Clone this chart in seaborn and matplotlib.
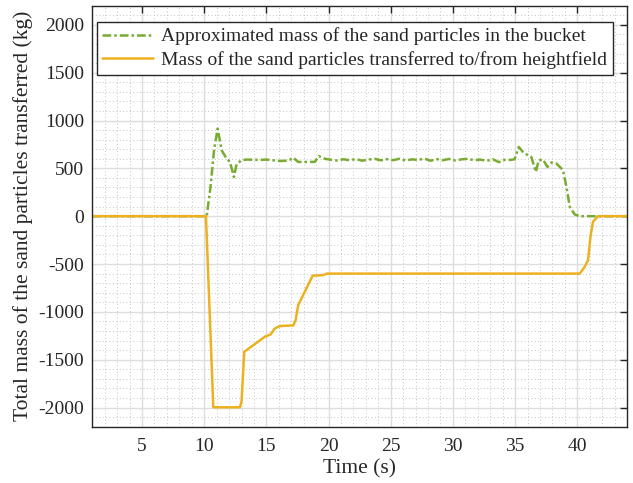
import numpy as np
import pandas as pd
import seaborn as sns
import matplotlib
matplotlib.use("Agg")
import matplotlib.pyplot as plt
from matplotlib.ticker import MultipleLocator

# ---- data ----
green_t = [1.0, 10.2, 10.5, 10.8, 11.08, 11.4, 11.8, 12.07, 12.39, 12.6, 13.0, 13.4,
           14.0, 14.5, 15.0, 15.5, 16.09, 16.6, 16.9, 17.16, 17.56, 18.0, 18.5, 18.9,
           19.2, 19.7, 20.2, 20.7, 21.2, 21.7, 22.2, 22.7, 23.2, 23.7, 24.2, 24.7,
           25.2, 25.7, 26.2, 26.7, 27.2, 27.7, 28.2, 28.7, 29.2, 29.7, 30.2, 30.7,
           31.2, 31.7, 32.2, 32.7, 33.2, 33.7, 34.2, 34.6, 34.96, 35.3, 35.7, 36.05,
           36.3, 36.67, 36.9, 37.25, 37.6, 37.93, 38.33, 38.73, 38.86, 39.13, 39.4,
           39.8, 40.2, 44.0]
green_v = [0, 0, 300, 700, 915, 689, 602, 567, 410, 543, 585, 592,
           590, 588, 592, 585, 577, 580, 590, 612, 567, 567, 567, 568,
           629, 600, 590, 582, 595, 585, 598, 580, 592, 600, 584, 596,
           586, 600, 582, 594, 588, 602, 580, 596, 586, 598, 583, 594,
           600, 585, 592, 578, 596, 565, 590, 588, 595, 724, 660, 637,
           620, 463, 585, 592, 515, 561, 550, 498, 480, 306, 97,
           18, 0, 0]

orange_t = [1.0, 10.14, 10.73, 12.87, 13.0, 13.22, 14.88, 15.34, 15.69, 16.09, 17.16,
            17.35, 17.56, 18.72, 19.57, 19.84, 40.2, 40.6, 40.87, 41.06, 41.26,
            41.66, 44.0]
orange_v = [0, 0, -1997, -1997, -1940, -1417, -1260, -1235, -1172, -1148, -1141,
            -1086, -929, -622, -616, -600, -600, -529, -459, -216, -59,
            0, 0]

labels = ["Approximated mass of the sand particles in the bucket",
          "Mass of the sand particles transferred to/from heightfield"]
colors = ["#77AC30", "#EDB120"]

df = pd.concat([
    pd.DataFrame({"t": green_t, "v": green_v, "series": labels[0]}),
    pd.DataFrame({"t": orange_t, "v": orange_v, "series": labels[1]}),
])

sns.set_style("white")
plt.rcParams["font.family"] = ["Liberation Serif", "DejaVu Serif"]
plt.rcParams["axes.unicode_minus"] = False

fig = plt.figure(figsize=(6.33, 4.83), dpi=100)
ax = fig.add_axes([92.3 / 633, 1 - 426.7 / 483, (627 - 92.3) / 633, (426.7 - 5.7) / 483])

sns.lineplot(data=df, x="t", y="v", hue="series", style="series",
             palette=dict(zip(labels, colors)),
             dashes={labels[0]: (3.5, 1.2, 1, 1.2), labels[1]: ""},
             estimator=None, sort=False, ax=ax, linewidth=1.8)

ax.set_xlim(1, 44)
ax.set_ylim(-2200, 2200)
ax.xaxis.set_major_locator(MultipleLocator(5))
ax.xaxis.set_minor_locator(MultipleLocator(1))
ax.yaxis.set_major_locator(MultipleLocator(500))
ax.yaxis.set_minor_locator(MultipleLocator(100))
ax.grid(True, which="major", color="#dddddd", linewidth=1.0, linestyle="-")
ax.grid(True, which="minor", color="#c4c4c4", linewidth=0.7, linestyle=(0, (1, 2.5)))
ax.set_axisbelow(True)
ax.tick_params(axis="both", which="major", direction="in", length=5, width=1,
               labelsize=14, top=True, right=True, colors="#262626", labelcolor="#262626")
ax.tick_params(axis="x", which="major", pad=8)
ax.tick_params(axis="y", which="major", pad=6)
ax.tick_params(axis="both", which="minor", length=0)
for s in ax.spines.values():
    s.set_color("#262626")
    s.set_linewidth(1.0)

ax.set_xlabel("Time (s)", fontsize=15.5, color="#262626", labelpad=3)
ax.set_ylabel("Total mass of the sand particles transferred (kg)", fontsize=15.5,
              color="#262626", labelpad=4)

leg = ax.legend(loc="upper left", bbox_to_anchor=(0.008, 0.962), fontsize=14,
                frameon=True, fancybox=False, edgecolor="#262626", framealpha=1,
                handlelength=2.6, borderpad=0.3, labelspacing=0.3,
                handletextpad=0.4, borderaxespad=0)
leg.get_frame().set_linewidth(1.0)

fig.savefig("out.png", dpi=100)
